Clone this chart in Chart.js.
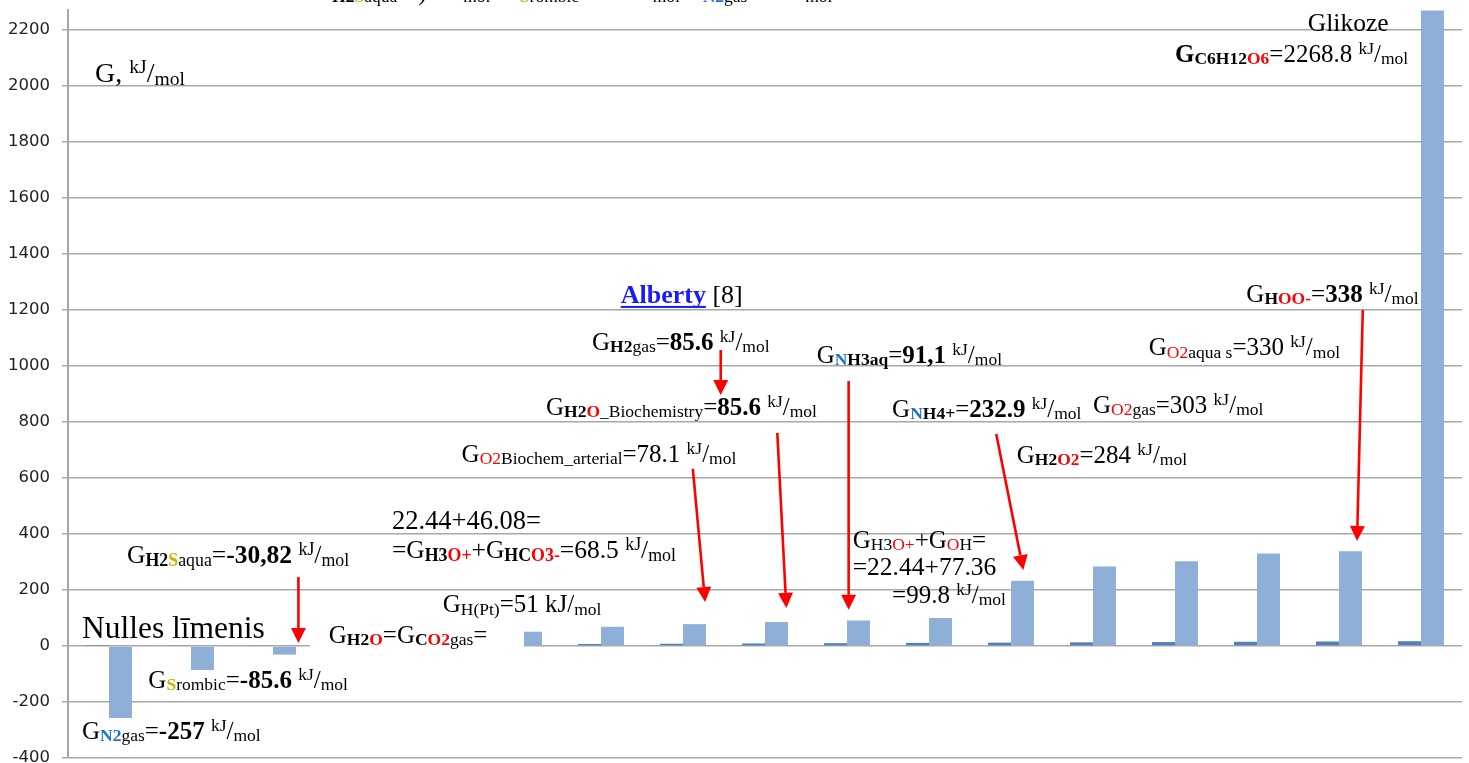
<!DOCTYPE html>
<html>
<head>
<meta charset="utf-8">
<script src="https://cdn.jsdelivr.net/npm/chart.js@4.4.1/dist/chart.umd.min.js"></script>
<style>
  html, body { margin: 0; padding: 0; background: #fff; }
  #wrap { width: 1469px; height: 763px; }
</style>
</head>
<body>
<div id="wrap"><canvas id="myChart" width="1469" height="763"></canvas></div>
<script>
// Chart data

const categories = ["N2gas", "Srombic", "H2Saqua", "H2O", "CO2gas", "H(Pt)", "H3O+ + HCO3-",
  "O2 arterial", "H2O Biochemistry", "NH3aq", "H3O+ + OH-", "NH4+", "H2O2", "O2gas",
  "O2 aqua s", "HOO-", "C6H12O6"];
const rowNumbers = [1, 2, 3, 4, 5, 6, 7, 8, 9, 10, 11, 12, 13, 14, 15, 16, 17];
const gibbsValues = [-257, -85.6, -30.82, 0, 0, 51, 68.5, 78.1, 85.6, 91.1, 99.8,
  232.9, 284, 303, 330, 338, 2268.8];
const yTickValues = [-400, -200, 0, 200, 400, 600, 800, 1000, 1200, 1400, 1600, 1800, 2000, 2200];

// Colors used in the labels
const RED = "#ff0000";
const BLUE = "#1f6fce";
const YEL = "#c8b400";

// Text labels: ix = category position, v = value on y axis (baseline, left edge)
const labels = [
  { ix: -0.17, v: 2014, f: 28, parts: [["G,"], [" "], ["kJ", "p"], ["/"], ["mol", "s"]] },
  { ix: -0.33, v: 29, f: 31.5, parts: [["Nulles līmenis"]] },
  { ix: -0.33, v: -332, f: 25, parts: [["G"], ["N2", "sb", BLUE], ["gas", "s"], ["="], ["-257", "b"], [" "], ["kJ", "p"], ["/"], ["mol", "s"]] },
  { ix: 0.48, v: -150, f: 25, parts: [["G"], ["S", "sb", YEL], ["rombic", "s"], ["="], ["-85.6", "b"], [" "], ["kJ", "p"], ["/"], ["mol", "s"]] },
  { ix: 0.22, v: 296, f: 25.5, parts: [["G"], ["H2", "sb"], ["S", "sb", YEL], ["aqua", "s"], ["="], ["-30,82", "b"], [" "], ["kJ", "p"], ["/"], ["mol", "s"]] },
  { ix: 2.68, v: 11, f: 25, parts: [["G"], ["H2", "sb"], ["O", "sb", RED], ["=G"], ["C", "sb"], ["O2", "sb", RED], ["gas", "s"], ["="]] },
  { ix: 4.07, v: 121, f: 25, parts: [["G"], ["H(Pt)", "s"], ["=51 kJ/"], ["mol", "s"]] },
  { ix: 3.45, v: 418, f: 26.5, parts: [["22.44+46.08="]] },
  { ix: 3.45, v: 314, f: 25.5, parts: [["=G"], ["H3", "sb"], ["O+", "sb", RED], ["+G"], ["HC", "sb"], ["O3-", "sb", RED], ["=68.5 "], ["kJ", "p"], ["/"], ["mol", "s"]] },
  { ix: 4.30, v: 657, f: 25, parts: [["G"], ["O2", "s", RED], ["Biochem_arterial", "s"], ["=78.1 "], ["kJ", "p"], ["/"], ["mol", "s"]] },
  { ix: 6.24, v: 1225, f: 26, parts: [["Alberty", "bu", "#1a1aff"], [" [8]"]] },
  { ix: 5.89, v: 1057, f: 25, parts: [["G"], ["H2", "sb"], ["gas", "s"], ["="], ["85.6", "b"], [" "], ["kJ", "p"], ["/"], ["mol", "s"]] },
  { ix: 5.33, v: 825, f: 25, parts: [["G"], ["H2", "sb"], ["O", "sb", RED], ["_Biochemistry", "s"], ["="], ["85.6", "b"], [" "], ["kJ", "p"], ["/"], ["mol", "s"]] },
  { ix: 8.63, v: 1011, f: 25, parts: [["G"], ["N", "sb", BLUE], ["H3aq", "sb"], ["="], ["91,1", "b"], [" "], ["kJ", "p"], ["/"], ["mol", "s"]] },
  { ix: 9.55, v: 818, f: 25, parts: [["G"], ["N", "sb", BLUE], ["H4+", "sb"], ["="], ["232.9", "b"], [" "], ["kJ", "p"], ["/"], ["mol", "s"]] },
  { ix: 12.0, v: 832, f: 25, parts: [["G"], ["O2", "s", RED], ["gas", "s"], ["=303 "], ["kJ", "p"], ["/"], ["mol", "s"]] },
  { ix: 11.07, v: 654, f: 25, parts: [["G"], ["H2", "sb"], ["O2", "sb", RED], ["=284 "], ["kJ", "p"], ["/"], ["mol", "s"]] },
  { ix: 12.68, v: 1039, f: 25, parts: [["G"], ["O2", "s", RED], ["aqua s", "s"], ["=330 "], ["kJ", "p"], ["/"], ["mol", "s"]] },
  { ix: 13.87, v: 1229, f: 25, parts: [["G"], ["H", "sb"], ["OO-", "sb", RED], ["="], ["338", "b"], [" "], ["kJ", "p"], ["/"], ["mol", "s"]] },
  { ix: 14.62, v: 2196, f: 25.5, parts: [["Glikoze"]] },
  { ix: 13.0, v: 2086, f: 25, parts: [["G", "b"], ["C6H12", "sb"], ["O6", "sb", RED], ["=2268.8 "], ["kJ", "p"], ["/"], ["mol", "s"]] },
  { ix: 9.07, v: 350, f: 25, parts: [["G"], ["H3", "s"], ["O+", "s", RED], ["+G"], ["O", "s", RED], ["H", "s"], ["="]] },
  { ix: 9.07, v: 254, f: 25.5, parts: [["=22.44+77.36"]] },
  { ix: 9.55, v: 154, f: 25, parts: [["=99.8 "], ["kJ", "p"], ["/"], ["mol", "s"]] },
  // line cut off at the very top of the picture
  { ix: 2.72, v: 2307, f: 25, parts: [["H2", "sb"], ["S", "sb", YEL], ["aqua", "s"]] },
  { ix: 3.77, v: 2307, f: 25, parts: [[")"]] },
  { ix: 4.32, v: 2307, f: 25, parts: [["mol", "s"]] },
  { ix: 5.01, v: 2307, f: 25, parts: [["S", "sb", YEL], ["rombic", "s"]] },
  { ix: 6.63, v: 2307, f: 25, parts: [["mol", "s"]] },
  { ix: 7.24, v: 2307, f: 25, parts: [["N2", "sb", BLUE], ["gas", "s"]] },
  { ix: 8.49, v: 2307, f: 25, parts: [["mol", "s"]] },
];

// Red arrows [ix1, v1, ix2, v2]
const arrows = [
  [2.31, 246, 2.31, 11],
  [7.12, 632, 7.27, 157],
  [7.46, 1057, 7.46, 896],
  [8.15, 761, 8.26, 136],
  [9.02, 946, 9.02, 129],
  [10.82, 757, 11.15, 271],
  [15.29, 1200, 15.22, 375],
];

// white box behind "GH2O=GCO2gas=" [ix1, v1, ix2, v2]
const whiteBox = [2.45, 100, 5.06, -50];

function drawRich(ctx, x, y, F, parts) {
  let cx = x;
  parts.forEach(function (p) {
    const txt = p[0];
    const fl = p[1] || "";
    const col = p[2] || "#000";
    const small = fl.includes("s") || fl.includes("p");
    const size = small ? F * 0.7 : F;
    let dy = 0;
    if (fl.includes("s")) dy = F * 0.1;
    if (fl.includes("p")) dy = -F * 0.33;
    ctx.font = (fl.includes("b") ? "bold " : "") + size + 'px "Liberation Serif", "Times New Roman", serif';
    ctx.fillStyle = col;
    ctx.fillText(txt, cx, y + dy);
    const w = ctx.measureText(txt).width;
    if (fl.includes("u")) ctx.fillRect(cx, y + dy + 3, w, 2);
    cx += w;
  });
}

function drawArrow(ctx, x1, y1, x2, y2) {
  const a = Math.atan2(y2 - y1, x2 - x1);
  const hl = 15, hw = 7.5;
  const bx = x2 - hl * Math.cos(a), by = y2 - hl * Math.sin(a);
  ctx.strokeStyle = RED;
  ctx.fillStyle = RED;
  ctx.lineWidth = 2.6;
  ctx.beginPath();
  ctx.moveTo(x1, y1);
  ctx.lineTo(bx, by);
  ctx.stroke();
  ctx.beginPath();
  ctx.moveTo(x2, y2);
  ctx.lineTo(bx - hw * Math.sin(a), by + hw * Math.cos(a));
  ctx.lineTo(bx + hw * Math.sin(a), by - hw * Math.cos(a));
  ctx.closePath();
  ctx.fill();
}

const annotationPlugin = {
  id: "annotations",
  afterDatasetsDraw: function (chart) {
    const ctx = chart.ctx;
    const xs = chart.scales.x, ys = chart.scales.y;
    const px = function (ix) { return xs.getPixelForValue(0) + ix * (xs.getPixelForValue(1) - xs.getPixelForValue(0)); };
    const py = function (v) { return ys.getPixelForValue(v); };
    ctx.save();
    ctx.fillStyle = "#fff";
    ctx.fillRect(px(whiteBox[0]), py(whiteBox[1]), px(whiteBox[2]) - px(whiteBox[0]), py(whiteBox[3]) - py(whiteBox[1]));
    ctx.textAlign = "left";
    ctx.textBaseline = "alphabetic";
    labels.forEach(function (l) { drawRich(ctx, px(l.ix), py(l.v), l.f, l.parts); });
    arrows.forEach(function (a) { drawArrow(ctx, px(a[0]), py(a[1]), px(a[2]), py(a[3])); });
    ctx.restore();
  },
};

const ctx = document.getElementById("myChart");
const myChart = new Chart(ctx, {
  type: "bar",
  data: {
    labels: categories,
    datasets: [
      { label: "Nr.", data: rowNumbers, backgroundColor: "#4f7fbd" },
      { label: "G, kJ/mol", data: gibbsValues, backgroundColor: "#8eafd8" },
    ],
  },
  options: {
    responsive: false,
    animation: false,
    devicePixelRatio: 1,
    layout: { padding: { top: 10, right: 7, bottom: 5, left: 0 } },
    datasets: { bar: { categoryPercentage: 0.56, barPercentage: 1, borderWidth: 0 } },
    plugins: { legend: { display: false }, tooltip: { enabled: false } },
    scales: {
      x: { display: false, offset: true, grid: { display: false } },
      y: {
        min: -400,
        max: 2271,
        ticks: {
          stepSize: 200,
          padding: 12,
          color: "#222",
          font: { family: '"DejaVu Sans", sans-serif', size: 16.5 },
          callback: function (v) { return String(v); },
        },
        grid: { color: "#a8a8a8", lineWidth: 1.5, tickLength: 6 },
        border: { display: true, color: "#a8a8a8", width: 2 },
        afterBuildTicks: function (scale) {
          scale.ticks = yTickValues.map(function (v) { return { value: v }; });
        },
        afterFit: function (scale) {
          scale.width = 68;
          scale.paddingTop = 0;
          scale.paddingBottom = 0;
        },
      },
    },
  },
  plugins: [annotationPlugin],
});
</script>
</body>
</html>
